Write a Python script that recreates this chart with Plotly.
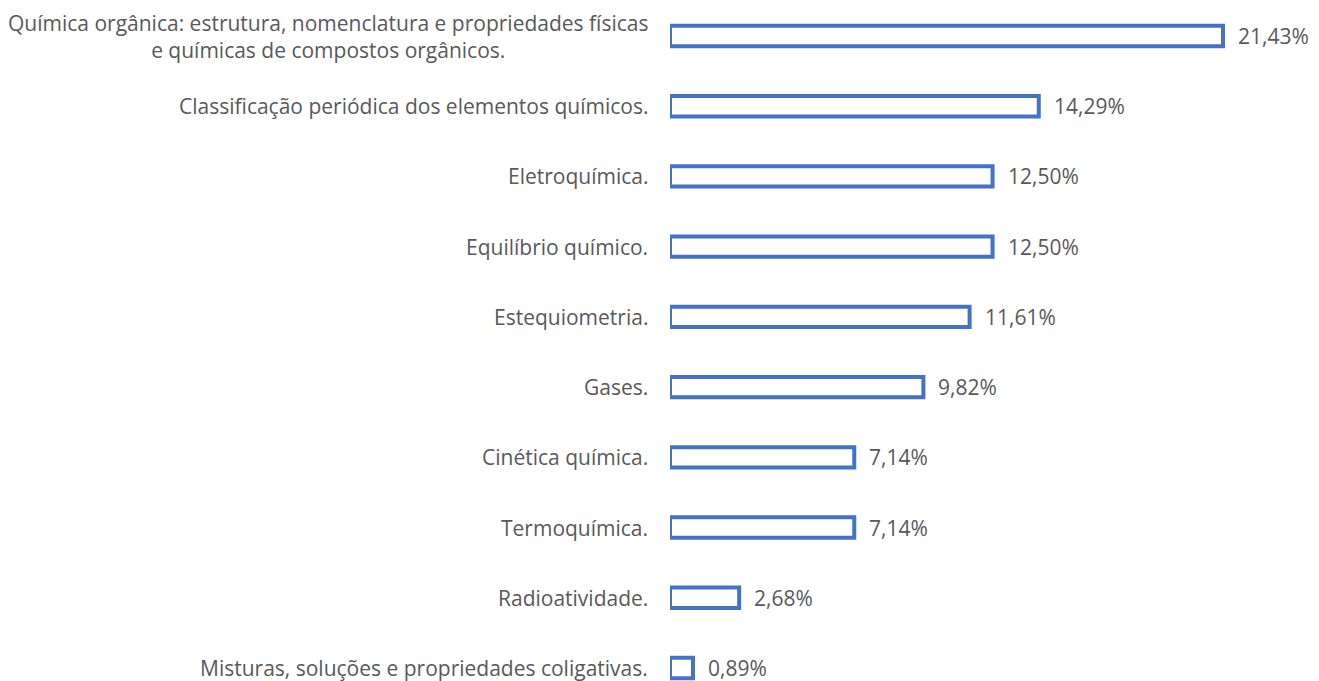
import plotly.graph_objects as go

categories = [
    "Química orgânica: estrutura, nomenclatura e propriedades físicas<br>e químicas de compostos orgânicos.",
    "Classificação periódica dos elementos químicos.",
    "Eletroquímica.",
    "Equilíbrio químico.",
    "Estequiometria.",
    "Gases.",
    "Cinética química.",
    "Termoquímica.",
    "Radioatividade.",
    "Misturas, soluções e propriedades coligativas.",
]
values = [21.43, 14.29, 12.50, 12.50, 11.61, 9.82, 7.14, 7.14, 2.68, 0.89]

FONT = "Open Sans"
GRAY = "#595959"
BLUE = "#4472C4"

ypos = list(range(len(categories)))

fig = go.Figure()
fig.add_trace(go.Bar(
    x=values,
    y=ypos,
    orientation="h",
    width=0.29,
    marker=dict(color="white", line=dict(color=BLUE, width=4)),
    hoverinfo="skip",
))

for i, c in enumerate(categories):
    fig.add_annotation(
        x=0, xref="paper", xanchor="right", xshift=-20,
        y=ypos[i], yref="y", yanchor="middle",
        text=c, showarrow=False, align="center",
        font=dict(family=FONT, size=21, color=GRAY),
    )

for i, v in enumerate(values):
    fig.add_annotation(
        x=v, xref="x", xanchor="left", xshift=13,
        y=ypos[i], yref="y", yanchor="middle",
        text=f"{v:.2f}%".replace(".", ","), showarrow=False,
        font=dict(family=FONT, size=21, color=GRAY),
    )

H = 673
px_per_row = 70.22
first_center = 28
top = -first_center / px_per_row
bottom = (H - first_center) / px_per_row

fig.update_layout(
    width=1311, height=H,
    margin=dict(l=662, r=0, t=0, b=0),
    plot_bgcolor="white", paper_bgcolor="white",
    showlegend=False,
    xaxis=dict(range=[0, 25.15], visible=False),
    yaxis=dict(range=[bottom, top], visible=False),
)

fig.write_html("out.html")
